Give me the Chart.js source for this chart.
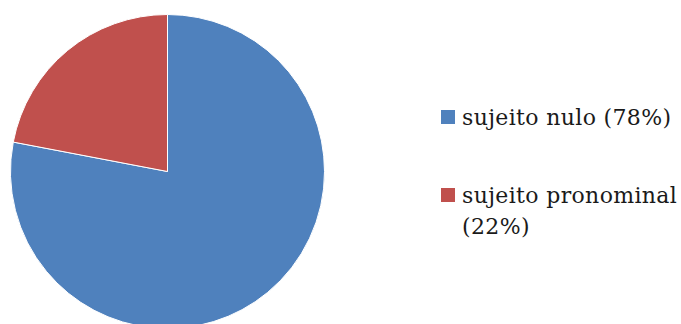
<!DOCTYPE html>
<html>
<head>
<meta charset="utf-8">
<script src="https://cdn.jsdelivr.net/npm/chart.js@4"></script>
<style>
    html, body { margin: 0; padding: 0; background: #fff; overflow: hidden; width: 681px; height: 324px; }
    #chart-box { position: absolute; left: 10px; top: 14px; width: 315px; height: 315px; }
    .legend-item { position: absolute; left: 441px; font-family: "DejaVu Serif", serif; font-size: 22px; line-height: 31px; letter-spacing: 0.35px; color: #1a1a1a; }
    .legend-item .box { position: absolute; left: 0; width: 14px; height: 14px; }
    .legend-item .txt { position: absolute; left: 21px; white-space: nowrap; }
</style>
</head>
<body>
<div id="chart-box"><canvas id="pieChart"></canvas></div>
<div id="legend"></div>
<script>
const labels = ["sujeito nulo", "sujeito pronominal"];
const values = [78, 22];
const colors = ['#4F81BD', '#C0504D'];
// legend text lines (second entry wraps in the original)
const legendLines = [["sujeito nulo (78%)"], ["sujeito pronominal", "(22%)"]];

// Legend (html, so the wrapped label can sit on two lines)
const legendTops = [110, 188];
const legend = document.getElementById('legend');
legendLines.forEach((lines, i) => {
    const item = document.createElement('div');
    item.className = 'legend-item';
    item.style.top = legendTops[i] + 'px';
    item.innerHTML = `<div class="box" style="background:${colors[i]}"></div>` +
        `<div class="txt" style="top:-8px">${lines.join('<br>')}</div>`;
    legend.appendChild(item);
});

const ctx = document.getElementById('pieChart').getContext('2d');
new Chart(ctx, {
    type: 'pie',
    data: {
        labels: labels,
        datasets: [{
            data: values,
            backgroundColor: colors,
            borderColor: '#ffffff',
            borderWidth: 1
        }]
    },
    options: {
        responsive: true,
        maintainAspectRatio: false,
        animation: false,
        layout: { padding: 0 },
        plugins: {
            legend: { display: false },
            tooltip: { enabled: false }
        }
    }
});
</script>
</body>
</html>
